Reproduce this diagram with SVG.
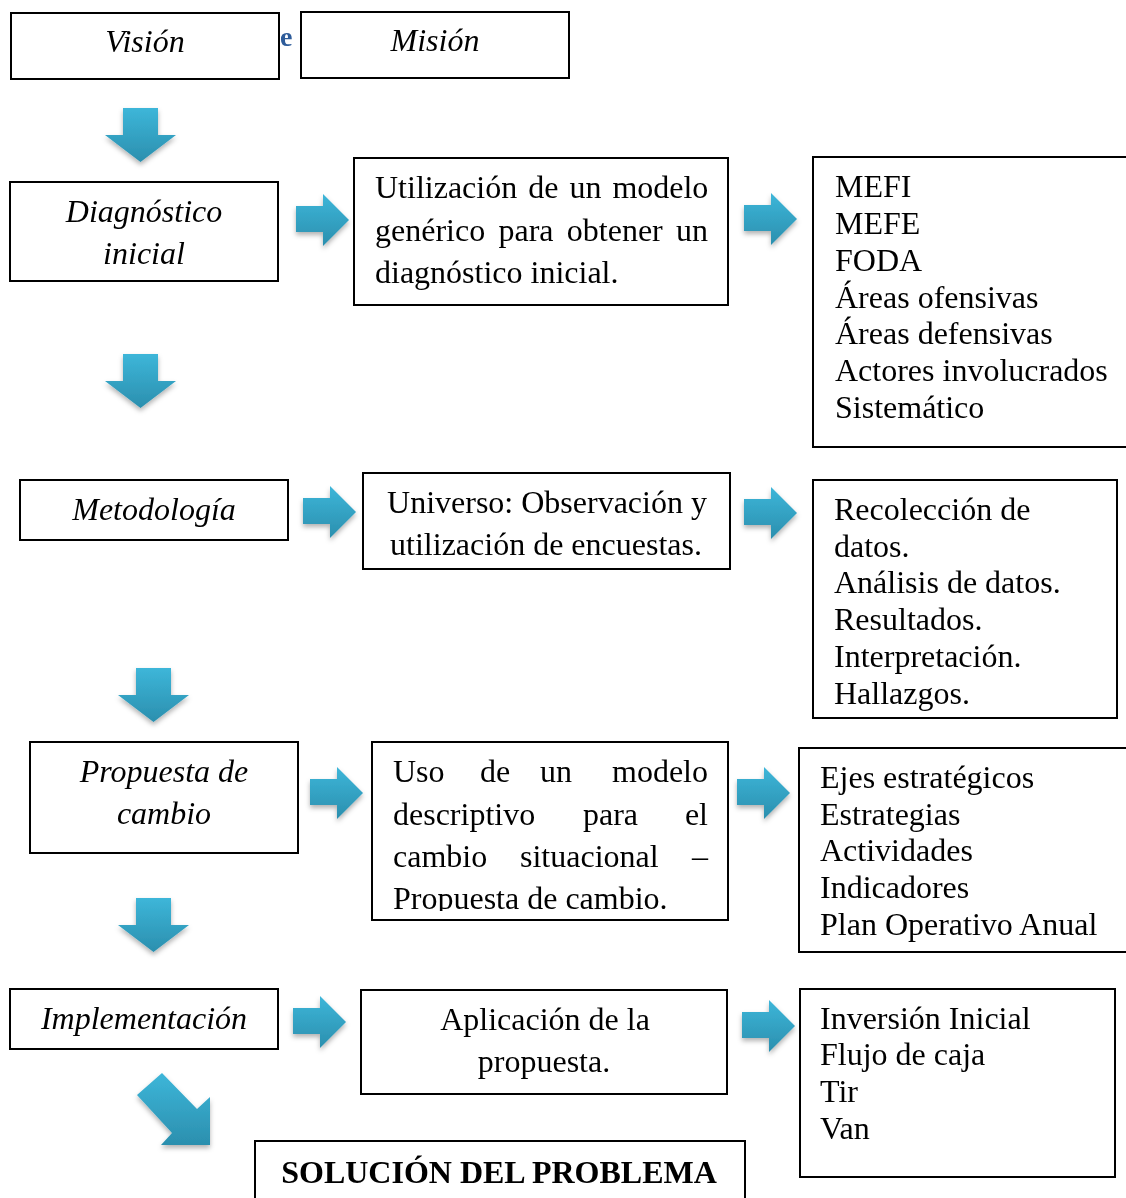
<svg xmlns="http://www.w3.org/2000/svg" width="1126" height="1198" viewBox="0 0 1126 1198">
<style>
.box{fill:#fff;stroke:#000;stroke-width:2}
.t{font-family:"Liberation Serif","Times New Roman",serif;font-size:32px;fill:#000}
.i{font-style:italic}
.c{text-anchor:middle}
.r{text-anchor:end}
.arr{fill:url(#g)}
</style>
<defs>
<linearGradient id="g" x1="0" y1="0" x2="0" y2="1">
<stop offset="0" stop-color="#3db6d9"/>
<stop offset="1" stop-color="#2b8fae"/>
</linearGradient>
<filter id="sh" x="-30%" y="-30%" width="160%" height="160%">
<feDropShadow dx="0" dy="3" stdDeviation="2.5" flood-color="#000" flood-opacity="0.3"/>
</filter>
<path id="down" d="M18,0 H53 V27 H71 L35.5,54 L0,27 H18 Z"/>
<path id="right" d="M0,12 H27 V0 L53,26 L27,52 V38 H0 Z"/>
<clipPath id="cl"><rect x="372" y="742" width="356" height="169"/></clipPath>
</defs>

<g id="connectors" class="arr" filter="url(#sh)">
<use href="#down" x="105" y="108"/>
<use href="#down" x="105" y="354"/>
<use href="#down" x="118" y="668"/>
<use href="#down" x="118" y="898"/>
<use href="#right" x="296" y="194"/>
<use href="#right" x="744" y="193"/>
<use href="#right" x="303" y="486"/>
<use href="#right" x="744" y="487"/>
<use href="#right" x="310" y="767"/>
<use href="#right" x="737" y="767"/>
<use href="#right" x="293" y="996"/>
<use href="#right" x="742" y="1000"/>
<path d="M137,1095 L162,1073 L197,1109 L210,1097 L210,1145 L161,1145 L172,1133 Z"/>
</g>

<g id="vision">
<rect class="box" x="11" y="13" width="268" height="66"/>
<text class="t i c" x="145" y="52">Visión</text>
</g>
<text id="e" x="280" y="46" font-family="Liberation Serif,serif" font-weight="bold" font-size="28" fill="#2e5c9a">e</text>
<g id="mision">
<rect class="box" x="301" y="12" width="268" height="66"/>
<text class="t i c" x="435" y="51">Misión</text>
</g>

<g id="diagnostico">
<rect class="box" x="10" y="182" width="268" height="99"/>
<text class="t i c" x="144" y="222">Diagnóstico</text>
<text class="t i c" x="144" y="264">inicial</text>
</g>
<g id="utilizacion">
<rect class="box" x="354" y="158" width="374" height="147"/>
<text class="t" x="375" y="198" word-spacing="3">Utilización de un modelo</text>
<text class="t" x="375" y="241" word-spacing="5.3">genérico para obtener un</text>
<text class="t" x="375" y="283">diagnóstico inicial.</text>
</g>
<g id="mefi">
<rect class="box" x="813" y="157" width="320" height="290"/>
<text class="t" x="835" y="197">MEFI</text>
<text class="t" x="835" y="234">MEFE</text>
<text class="t" x="835" y="271">FODA</text>
<text class="t" x="835" y="308">Áreas ofensivas</text>
<text class="t" x="835" y="344">Áreas defensivas</text>
<text class="t" x="835" y="381">Actores involucrados</text>
<text class="t" x="835" y="418">Sistemático</text>
</g>

<g id="metodologia">
<rect class="box" x="20" y="480" width="268" height="60"/>
<text class="t i c" x="154" y="520">Metodología</text>
</g>
<g id="universo">
<rect class="box" x="363" y="473" width="367" height="96"/>
<text class="t c" x="547" y="513">Universo: Observación y</text>
<text class="t c" x="546" y="555">utilización de encuestas.</text>
</g>
<g id="recoleccion">
<rect class="box" x="813" y="480" width="304" height="238"/>
<text class="t" x="834" y="520">Recolección de</text>
<text class="t" x="834" y="557">datos.</text>
<text class="t" x="834" y="593">Análisis de datos.</text>
<text class="t" x="834" y="630">Resultados.</text>
<text class="t" x="834" y="667">Interpretación.</text>
<text class="t" x="834" y="704">Hallazgos.</text>
</g>

<g id="propuesta">
<rect class="box" x="30" y="742" width="268" height="111"/>
<text class="t i c" x="164" y="782">Propuesta de</text>
<text class="t i c" x="164" y="824">cambio</text>
</g>
<g id="uso">
<rect class="box" x="372" y="742" width="356" height="178"/>
<g clip-path="url(#cl)">
<text class="t" x="393" y="782">Uso</text>
<text class="t" x="480" y="782">de</text>
<text class="t" x="540" y="782">un</text>
<text class="t r" x="708" y="782">modelo</text>
<text class="t" x="393" y="825">descriptivo</text>
<text class="t" x="583" y="825">para</text>
<text class="t r" x="708" y="825">el</text>
<text class="t" x="393" y="867">cambio</text>
<text class="t" x="520" y="867">situacional</text>
<text class="t r" x="708" y="867">–</text>
<text class="t" x="393" y="909">Propuesta de cambio.</text>
</g>
</g>
<g id="ejes">
<rect class="box" x="799" y="748" width="334" height="204"/>
<text class="t" x="820" y="788">Ejes estratégicos</text>
<text class="t" x="820" y="825">Estrategias</text>
<text class="t" x="820" y="861">Actividades</text>
<text class="t" x="820" y="898">Indicadores</text>
<text class="t" x="820" y="935">Plan Operativo Anual</text>
</g>

<g id="implementacion">
<rect class="box" x="10" y="989" width="268" height="60"/>
<text class="t i c" x="144" y="1029">Implementación</text>
</g>
<g id="aplicacion">
<rect class="box" x="361" y="990" width="366" height="104"/>
<text class="t c" x="545" y="1030">Aplicación de la</text>
<text class="t c" x="544" y="1072">propuesta.</text>
</g>
<g id="inversion">
<rect class="box" x="800" y="989" width="315" height="188"/>
<text class="t" x="820" y="1029">Inversión Inicial</text>
<text class="t" x="820" y="1065">Flujo de caja</text>
<text class="t" x="820" y="1102">Tir</text>
<text class="t" x="820" y="1139">Van</text>
</g>

<g id="solucion">
<rect class="box" x="255" y="1141" width="490" height="70"/>
<text class="t c" x="499" y="1183" font-weight="bold" font-size="33">SOLUCIÓN DEL PROBLEMA</text>
</g>
</svg>
